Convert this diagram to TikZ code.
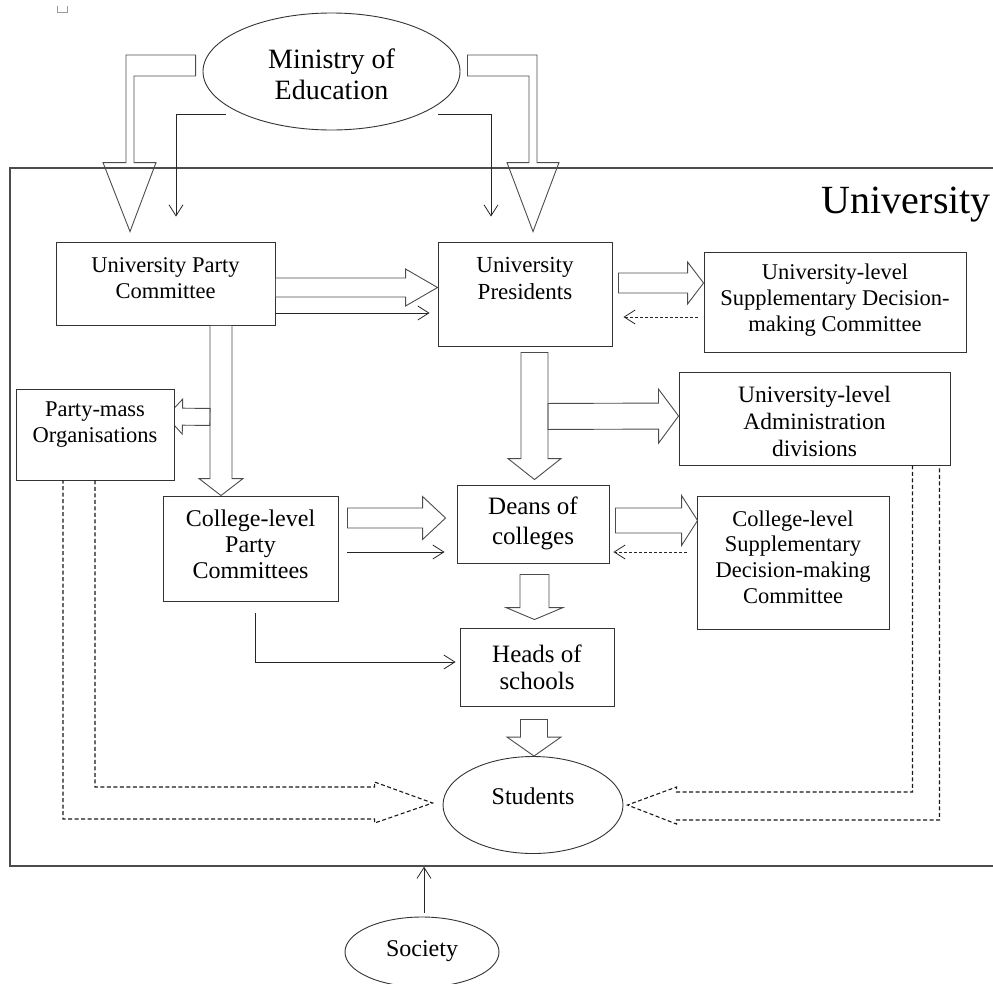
\documentclass[tikz,border=0pt]{standalone}
\usepackage{fontspec}
\setmainfont{Liberation Serif}
\usetikzlibrary{calc,arrows.meta,shapes.geometric,backgrounds}

\tikzset{
  box/.style={draw=black!80, line width=0.9pt, fill=white, inner sep=0pt},
  oval/.style={ellipse, draw=black!80, line width=0.9pt, fill=white, inner sep=0pt},
  boxtext/.style={align=center, inner sep=0pt, font=\fontsize{22.5}{26}\selectfont},
  hollow/.style={draw=black!70, line width=0.9pt, line join=miter},
  thinarrow/.style={draw=black!85, line width=0.8pt, -{Straight Barb[length=11pt,width=14pt]}},
  dasharrow/.style={thinarrow, dash pattern=on 3pt off 2pt},
  dashblock/.style={draw=black!90, line width=1.1pt, dash pattern=on 4pt off 2.5pt},
}

% block arrow: start, tip, half shaft, half head, head length
\newcommand{\blockarrow}[5]{%
  \coordinate (ba-base) at ($(#2)!#5pt!(#1)$);
  \draw[hollow] ($(#1)!#3pt!90:(#2)$) -- ($(ba-base)!#3pt!-90:(#1)$)
    -- ($(ba-base)!#4pt!-90:(#1)$) -- (#2)
    -- ($(ba-base)!#4pt!90:(#1)$) -- ($(ba-base)!#3pt!90:(#1)$)
    -- ($(#1)!#3pt!-90:(#2)$) -- cycle;}

\begin{document}
\begin{tikzpicture}[x=1pt,y=-1pt]
  \useasboundingbox (0,0) rectangle (993,983);

  % mark
  \draw[black!40, line width=0.8pt] (57,6) -- (57,12) -- (67,12) -- (67,6);

  % university frame
  \node[draw=black!70, line width=1.4pt, minimum width=990pt, minimum height=698pt, inner sep=0pt] (univ) at (505,517) {};
  \node[anchor=base east, inner sep=0pt, font=\fontsize{40}{44}\selectfont] (univ-t) at (991,213) {University};

  % ministry
  \node[oval, minimum width=257pt, minimum height=117pt] (moe) at (331.5,71.5) {};
  \node[boxtext, font=\fontsize{28}{31}\selectfont] (moe-t) at (331.5,74) {Ministry of\\Education};

  % boxes
  \node[box, minimum width=219pt, minimum height=83pt] (upc) at (165.5,283.5) {};
  \node[boxtext] (upc-t) at (165.5,278) {University Party\\Committee};
  \node[box, minimum width=174pt, minimum height=104pt] (up) at (525,294) {};
  \node[boxtext, font=\fontsize{23}{27}\selectfont] (up-t) at (525,278) {University\\Presidents};
  \node[box, minimum width=262pt, minimum height=100pt] (uls) at (835,302) {};
  \node[boxtext] (uls-t) at (835,300) {University-level\\Supplementary Decision-\\making Committee};
  \node[box, minimum width=271pt, minimum height=93pt] (ula) at (814.5,418.5) {};
  \node[boxtext, font=\fontsize{23.5}{27}\selectfont] (ula-t) at (814.5,421) {University-level\\Administration\\divisions};
  \node[box, minimum width=158pt, minimum height=91pt] (pmo) at (95,434.5) {};
  \node[boxtext] (pmo-t) at (95,425) {Party-mass\\Organisations};
  \node[box, minimum width=175pt, minimum height=105pt] (cpc) at (250.5,548.5) {};
  \node[boxtext, font=\fontsize{24}{26}\selectfont] (cpc-t) at (250.5,544) {College-level\\Party\\Committees};
  \node[box, minimum width=152pt, minimum height=78pt] (deans) at (533,524) {};
  \node[boxtext, font=\fontsize{25}{30}\selectfont] (deans-t) at (533,523) {Deans of\\colleges};
  \node[box, minimum width=192pt, minimum height=133pt] (cls) at (793,562.5) {};
  \node[boxtext, font=\fontsize{22.5}{25.7}\selectfont] (cls-t) at (793,557) {College-level\\Supplementary\\Decision-making\\Committee};
  \node[box, minimum width=154pt, minimum height=78pt] (heads) at (537,667) {};
  \node[boxtext, font=\fontsize{25}{27}\selectfont] (heads-t) at (537,667) {Heads of\\schools};
  \node[oval, minimum width=180pt, minimum height=97pt] (stu) at (533,805) {};
  \node[boxtext, font=\fontsize{24}{26}\selectfont] (stu-t) at (533,796) {Students};
  \node[oval, minimum width=154pt, minimum height=70pt] (soc) at (422,952) {};
  \node[boxtext, font=\fontsize{24}{26}\selectfont] (soc-t) at (422,951) {Society};

  % ministry arrows
  \coordinate (n-s) at ($(moe.west)+(-7,-6)$);
  \coordinate (n-t) at ($(upc.north)+(-35.5,-10)$);
  \draw[hollow] let \p1=(n-s), \p2=(n-t) in
    (\x1,\y1+10.5pt) -- (\x2-4pt,\y1+10.5pt) -- (\x2-4pt,\y2+69pt) -- (\x2-27pt,\y2+69pt) -- (\p2)
    -- (\x2+26pt,\y2+69pt) -- (\x2+4pt,\y2+69pt) -- (\x2+4pt,\y1-10.5pt) -- (\x1,\y1-10.5pt) -- cycle;
  \coordinate (o-s) at ($(moe.east)+(7,-6)$);
  \coordinate (o-t) at ($(up.north)+(8,-10)$);
  \draw[hollow] let \p1=(o-s), \p2=(o-t) in
    (\x1,\y1+10.5pt) -- (\x2+4pt,\y1+10.5pt) -- (\x2+4pt,\y2+69pt) -- (\x2+26pt,\y2+69pt) -- (\p2)
    -- (\x2-26pt,\y2+69pt) -- (\x2-4pt,\y2+69pt) -- (\x2-4pt,\y1-10.5pt) -- (\x1,\y1-10.5pt) -- cycle;
  \draw[thinarrow] ($(moe.center)+(-105.5,42.5)$) -| ($(upc.north)+(10.5,-25)$);
  \draw[thinarrow] ($(moe.center)+(106.5,42.5)$) -| ($(up.north)+(-34,-25)$);

  % party committee to presidents
  \coordinate (a1s) at ($(upc.east)+(0,4)$);
  \coordinate (a1t) at ($(up.west)+(0,-6.5)$);
  \blockarrow{a1s}{a1t}{9.5}{18.5}{32}
  \draw[thinarrow] ($(upc.east)+(0,29.5)$) -- ($(up.west)+(-8,19)$);

  % presidents to supplementary committee
  \coordinate (a2s) at ($(up.east)+(6,-11)$);
  \coordinate (a2t) at ($(uls.west)+(0,-19)$);
  \blockarrow{a2s}{a2t}{10}{21}{16}
  \draw[dasharrow] ($(uls.west)+(-6,15)$) -- ($(up.east)+(11,23)$);

  % presidents to deans, and to administration
  \coordinate (a3s) at ($(up.south)+(9.5,6)$);
  \coordinate (a3t) at ($(deans.north)+(1.5,-5)$);
  \blockarrow{a3s}{a3t}{13.5}{26.5}{21}
  \coordinate (a4s) at ($(a3s)+(13.5,64)$);
  \coordinate (a4t) at ($(ula.west)+(0,-2.5)$);
  \blockarrow{a4s}{a4t}{13}{27}{20}

  % party committee down
  \coordinate (a5s) at ($(upc.south)+(55.5,0)$);
  \coordinate (a5t) at ($(cpc.north)+(-29.5,0)$);
  \blockarrow{a5s}{a5t}{11}{22}{17}
  \begin{scope}[on background layer]
    \coordinate (a6s) at ($(a5s)+(-11,91.5)$);
    \coordinate (a6t) at ($(pmo.east)+(-8,-18)$);
    \blockarrow{a6s}{a6t}{8.5}{17.5}{16}
  \end{scope}

  % college level
  \coordinate (a7s) at ($(cpc.east)+(9,-30.5)$);
  \coordinate (a7t) at ($(deans.west)+(-11,-6)$);
  \blockarrow{a7s}{a7t}{10}{21.5}{23}
  \draw[thinarrow] ($(cpc.east)+(9,3.5)$) -- ($(deans.west)+(-12,28)$);
  \coordinate (a8s) at ($(deans.east)+(6,-3.5)$);
  \coordinate (a8t) at ($(cls.west)+(1,-42)$);
  \blockarrow{a8s}{a8t}{12.5}{25}{16}
  \draw[dasharrow] ($(cls.west)+(-10,-10.5)$) -- ($(deans.east)+(4,28)$);
  \coordinate (a9s) at ($(deans.south)+(1.5,11)$);
  \coordinate (a9t) at ($(heads.north)+(-2.5,-8)$);
  \blockarrow{a9s}{a9t}{14.5}{28.5}{12}
  \draw[thinarrow] ($(cpc.south)+(4.5,12)$) |- ($(heads.west)+(-4,-5)$);

  % to students
  \coordinate (a10s) at ($(heads.south)+(-3,13)$);
  \coordinate (a10t) at ($(stu.north)+(1,0)$);
  \blockarrow{a10s}{a10t}{13.5}{27}{19}
  \coordinate (p1s) at ($(pmo.south)+(-16,0)$);
  \coordinate (p1t) at ($(stu.west)+(-10,-2)$);
  \draw[dashblock] let \p1=(p1s), \p2=(p1t) in
    (\x1+16pt,\y1) -- (\x1+16pt,\y2+16pt) -- (\x2-58pt,\y2+16pt) -- (\x2-58pt,\y2+21pt) -- (\p2)
    -- (\x2-58pt,\y2-20pt) -- (\x2-58pt,\y2-16pt) -- (\x1-16pt,\y2-16pt) -- (\x1-16pt,\y1);
  \coordinate (p2s) at ($(ula.south east)+(-24.5,0)$);
  \coordinate (p2t) at ($(stu.east)+(4,0)$);
  \draw[dashblock] let \p1=(p2s), \p2=(p2t) in
    (\x1-13.5pt,\y1) -- (\x1-13.5pt,\y2+13pt) -- (\x2+49pt,\y2+13pt) -- (\x2+49pt,\y2+18pt) -- (\p2)
    -- (\x2+49pt,\y2-19pt) -- (\x2+49pt,\y2-15pt) -- (\x1+13.5pt,\y2-15pt) -- (\x1+13.5pt,\y1);

  % society
  \coordinate (q-s) at ($(soc.north)+(2,-4)$);
  \draw[thinarrow] (q-s) -- (q-s |- univ.south);
\end{tikzpicture}
\end{document}
